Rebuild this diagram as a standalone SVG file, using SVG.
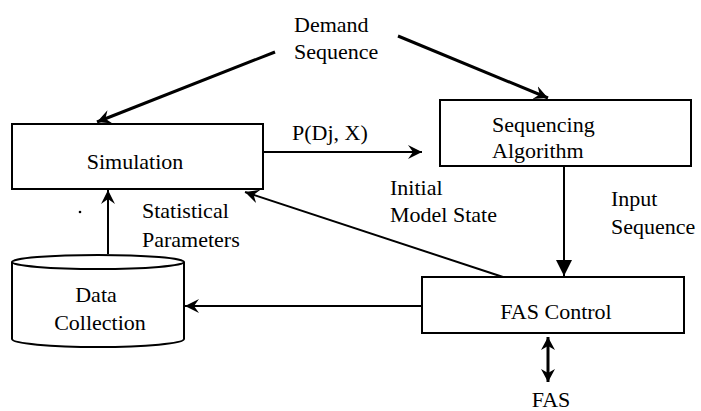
<svg xmlns="http://www.w3.org/2000/svg" width="701" height="411" viewBox="0 0 701 411" font-family="'Liberation Serif', 'Times New Roman', 'DejaVu Serif', serif" font-size="22">
<style>
text{font-family:'Liberation Serif','Times New Roman','DejaVu Serif',serif;font-size:22px;fill:#000}
.box{fill:#fff;stroke:#000;stroke-width:2}
.ln{fill:none;stroke:#000;stroke-width:2}
.thick{fill:none;stroke:#000;stroke-width:3}
</style>
<defs>
<marker id="barb" viewBox="-14 -8 16 16" markerWidth="16" markerHeight="16" refX="0" refY="0" orient="auto" markerUnits="userSpaceOnUse">
<path d="M0,0 L-14,-7 L-9,0 L-14,7 Z" fill="#000"/>
</marker>
<marker id="tri" viewBox="-16 -9 18 18" markerWidth="18" markerHeight="18" refX="0" refY="0" orient="auto" markerUnits="userSpaceOnUse">
<path d="M0,0 L-16,-8 L-16,8 Z" fill="#000"/>
</marker>
<marker id="tri2" viewBox="-14 -8 16 16" markerWidth="16" markerHeight="16" refX="0" refY="0" orient="auto-start-reverse" markerUnits="userSpaceOnUse">
<path d="M0,0 L-13,-7 L-9,0 L-13,7 Z" fill="#000"/>
</marker>
</defs>

<g id="connectors">
<line class="thick" x1="275" y1="52" x2="97" y2="122" marker-end="url(#barb)"/>
<line class="thick" x1="398" y1="36" x2="548" y2="98" marker-end="url(#barb)"/>
<line class="ln" x1="263" y1="152" x2="422" y2="152" marker-end="url(#barb)"/>
<line class="ln" x1="564" y1="166" x2="564" y2="276" marker-end="url(#tri)"/>
<line class="ln" x1="503" y1="277" x2="245" y2="192" marker-end="url(#barb)"/>
<line class="ln" x1="108" y1="254" x2="108" y2="190" marker-end="url(#barb)"/>
<line class="ln" x1="422" y1="306" x2="185" y2="306" marker-end="url(#barb)"/>
<line class="thick" x1="548" y1="337" x2="548" y2="382" marker-start="url(#tri2)" marker-end="url(#tri2)"/>
<circle cx="80" cy="212" r="1.3" fill="#000"/>
</g>

<g id="demand-sequence">
<text x="294" y="32">Demand</text>
<text x="294" y="59">Sequence</text>
</g>

<g id="simulation">
<rect class="box" x="12" y="124" width="251" height="65"/>
<text x="135" y="169" text-anchor="middle">Simulation</text>
</g>

<g id="sequencing-algorithm">
<rect class="box" x="440" y="100" width="251" height="66"/>
<text x="492" y="132">Sequencing</text>
<text x="492" y="158">Algorithm</text>
</g>

<g id="data-collection">
<path class="box" d="M12,262 L12,339 A86,8 0 0 0 184,339 L184,262"/>
<ellipse class="box" cx="98" cy="262" rx="86" ry="7"/>
<text x="96" y="302" text-anchor="middle">Data</text>
<text x="100" y="330" text-anchor="middle">Collection</text>
</g>

<g id="fas-control">
<rect class="box" x="422" y="277" width="262" height="56"/>
<text x="556" y="319" text-anchor="middle">FAS Control</text>
</g>

<g id="fas">
<text x="551" y="407" text-anchor="middle">FAS</text>
</g>

<g id="labels">
<text x="292" y="140">P(Dj, X)</text>
<text x="390" y="195">Initial</text>
<text x="390" y="222">Model  State</text>
<text x="611" y="206">Input</text>
<text x="611" y="234">Sequence</text>
<text x="142" y="218">Statistical</text>
<text x="142" y="247">Parameters</text>
</g>
</svg>
